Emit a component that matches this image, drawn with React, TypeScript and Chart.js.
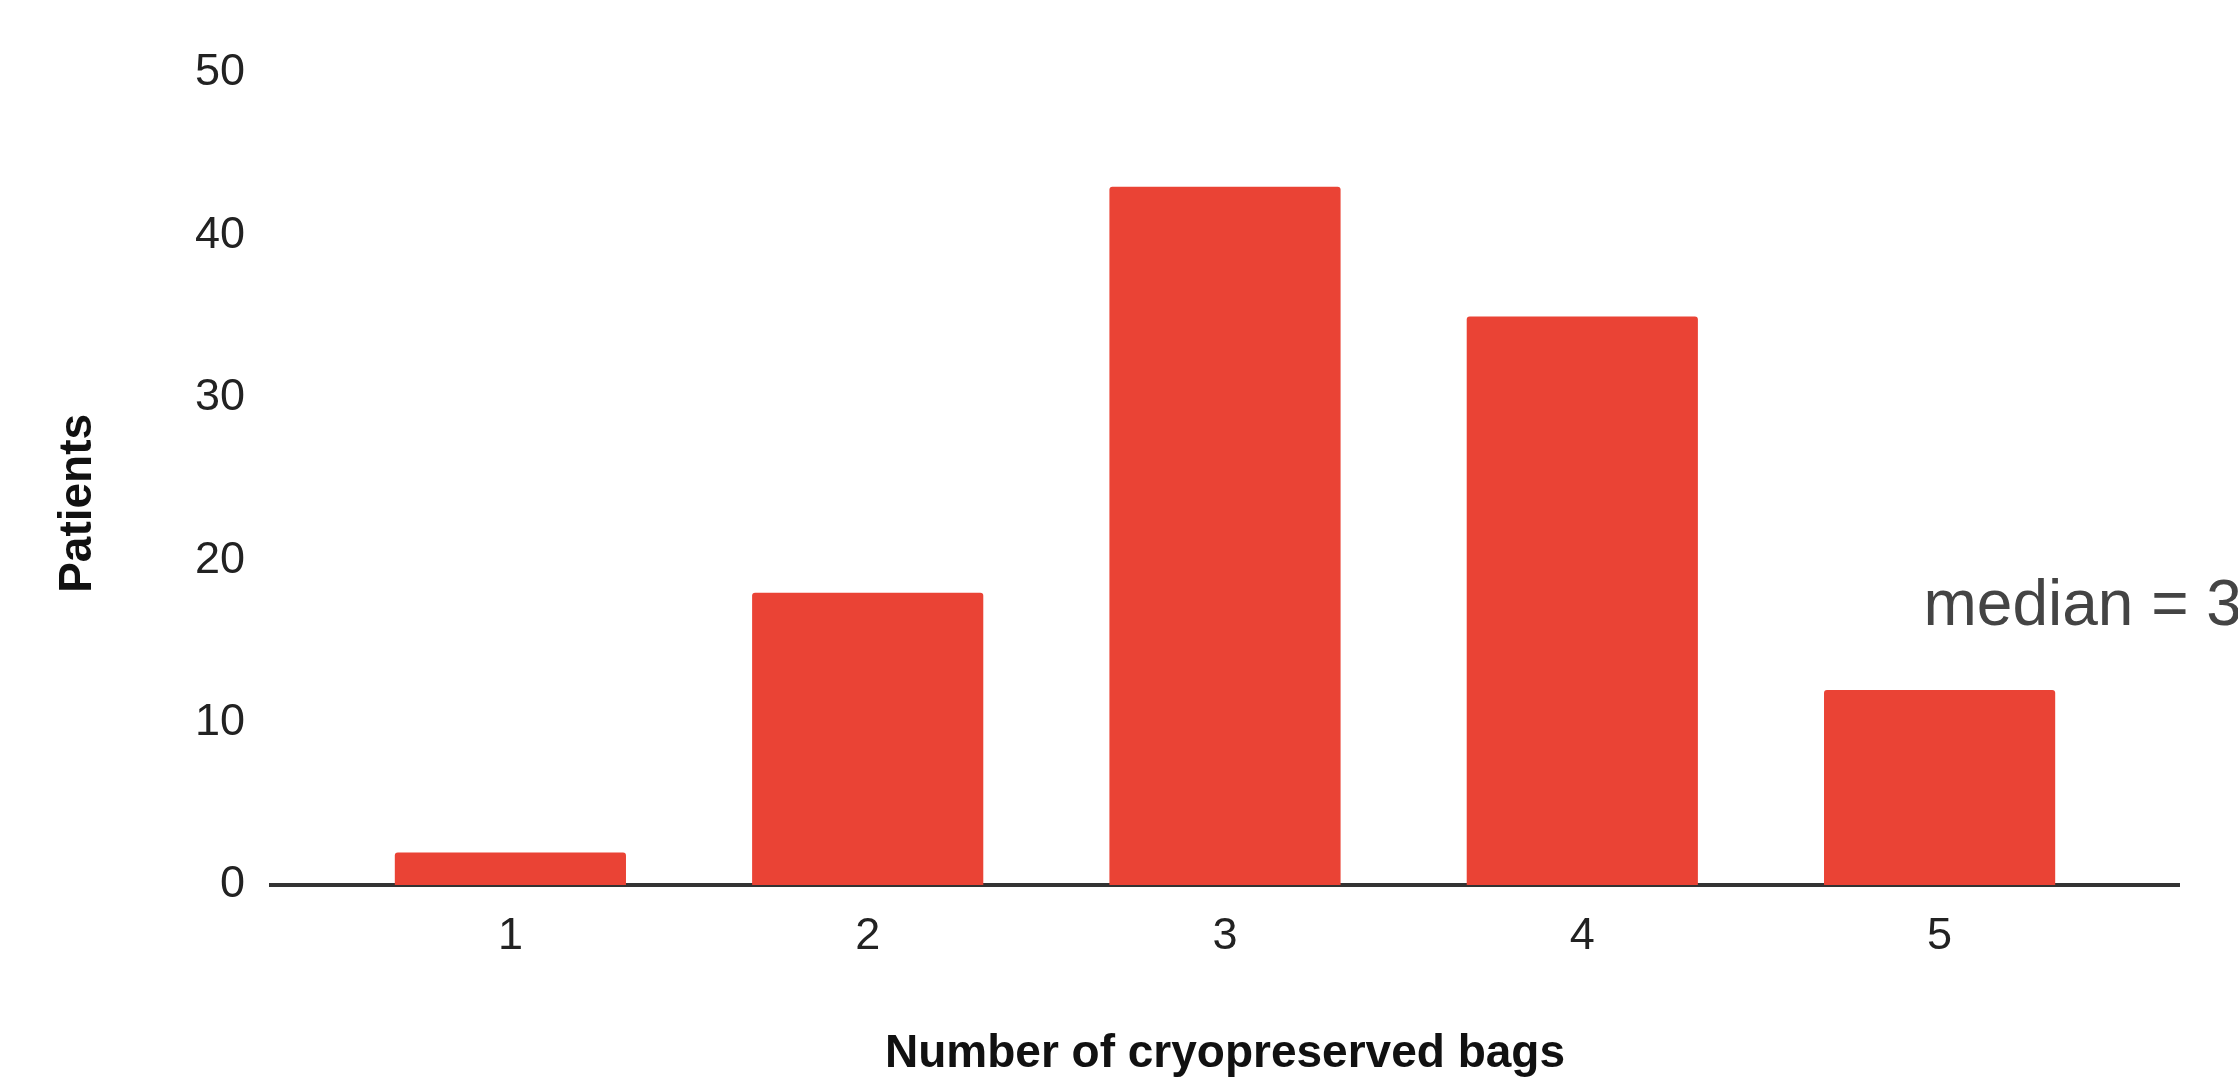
import React, { useEffect, useRef } from "react";
import { Chart, registerables } from "chart.js";

Chart.register(...registerables);

// ---- data ----
const categories = [1, 2, 3, 4, 5];
const patients = [2, 18, 43, 35, 12];
const yTickValues = [0, 10, 20, 30, 40, 50];
const xTitle = "Number of cryopreserved bags";
const yTitle = "Patients";
const medianText = "median = 3";
const medianAnchor = [4.955, 16]; // in data units (x, y)

const FONT = '"Liberation Sans", Arial, Helvetica, sans-serif';

const annotationPlugin = {
  id: "annotations",
  afterDraw(chart: any) {
    const { ctx, scales, chartArea } = chart;
    const x = scales.x;
    const y = scales.y;
    ctx.save();
    // median label
    ctx.font = `64px ${FONT}`;
    ctx.fillStyle = "#444444";
    ctx.textAlign = "left";
    ctx.textBaseline = "alphabetic";
    ctx.fillText(medianText, x.getPixelForValue(medianAnchor[0]), y.getPixelForValue(medianAnchor[1]));
    // y axis title (rotated)
    ctx.font = `bold 46px ${FONT}`;
    ctx.fillStyle = "#111111";
    ctx.textAlign = "center";
    ctx.textBaseline = "middle";
    const cy = chartArea.top + (chartArea.bottom - chartArea.top) * 0.53;
    ctx.translate(78, cy);
    ctx.rotate(-Math.PI / 2);
    ctx.fillText(yTitle, 0, 0);
    ctx.restore();
  },
};

export default function App() {
  const canvasRef = useRef<HTMLCanvasElement | null>(null);

  useEffect(() => {
    const canvas = canvasRef.current;
    if (!canvas) return;
    const chart = new Chart(canvas, {
      type: "bar",
      data: {
        datasets: [
          {
            label: yTitle,
            data: categories.map((c, i) => ({ x: c, y: patients[i] })),
            backgroundColor: "#EA4335",
            borderWidth: 0,
            borderRadius: { topLeft: 3, topRight: 3, bottomLeft: 0, bottomRight: 0 },
            borderSkipped: "bottom",
            categoryPercentage: 1,
            barPercentage: 0.647,
          },
        ],
      },
      options: {
        responsive: false,
        animation: false,
        devicePixelRatio: 1,
        layout: { padding: { top: 73, right: 59, left: 0, bottom: 0 } },
        plugins: {
          legend: { display: false },
          tooltip: { enabled: false },
        },
        scales: {
          x: {
            type: "linear",
            offset: false,
            min: 0.33,
            max: 5.67,
            z: 1,
            grid: { display: false, drawTicks: false, offset: false },
            border: { display: true, color: "#333333", width: 4 },
            afterBuildTicks: (axis: any) => {
              axis.ticks = categories.map((v) => ({ value: v }));
            },
            afterFit: (axis: any) => {
              axis.height = 193;
            },
            ticks: {
              autoSkip: false,
              maxRotation: 0,
              padding: 25,
              color: "#222222",
              font: { family: FONT, size: 45 },
              callback: (v: any) => String(v),
            },
            title: {
              display: true,
              text: xTitle,
              color: "#111111",
              font: { family: FONT, size: 46, weight: "bold" },
              padding: { top: 0, bottom: -4 },
            },
          },
          y: {
            type: "linear",
            min: 0,
            max: 50,
            grid: { display: false, drawTicks: false },
            border: { display: false },
            afterBuildTicks: (axis: any) => {
              axis.ticks = yTickValues.map((v) => ({ value: v }));
            },
            afterFit: (axis: any) => {
              axis.width = 271;
            },
            ticks: {
              padding: 26,
              color: "#222222",
              font: { family: FONT, size: 45 },
            },
            title: { display: false, text: yTitle },
          },
        },
      },
      plugins: [annotationPlugin],
    });
    return () => chart.destroy();
  }, []);

  return (
    <div style={{ position: "absolute", left: 0, top: 0, width: 2238, height: 1078, background: "#ffffff" }}>
      <canvas ref={canvasRef} width={2238} height={1078} style={{ display: "block" }} />
    </div>
  );
}
